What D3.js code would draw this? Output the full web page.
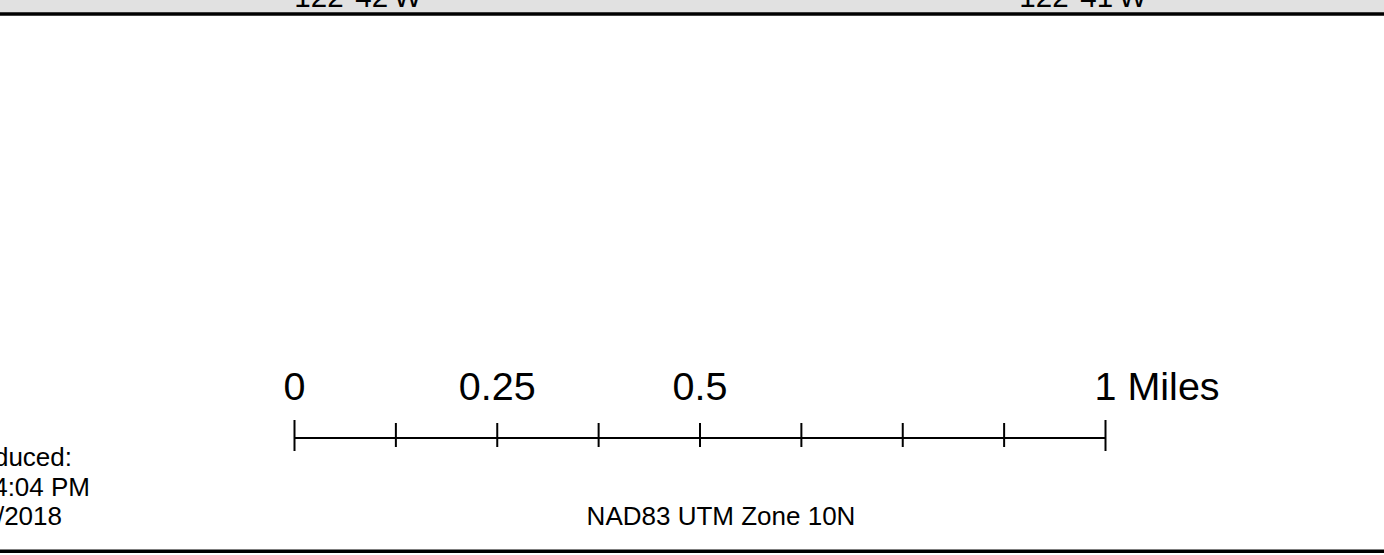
<!DOCTYPE html>
<html>
<head>
<meta charset="utf-8">
<script src="https://cdn.jsdelivr.net/npm/d3@7"></script>
<style>
  html, body { margin: 0; padding: 0; background: #fff; overflow: hidden; }
  text { font-family: "Liberation Sans", Arial, sans-serif; fill: #000; }
</style>
</head>
<body>
<div id="map"></div>
<script>
// Scale bar divisions (miles) and which ones get a label
const barTicks = [0, 0.125, 0.25, 0.375, 0.5, 0.625, 0.75, 0.875, 1];
const barLabels = [0, 0.25, 0.5, 1];
const barUnit = "Miles";

// Meridian labels along the top edge (decimal degrees)
const meridians = [-122.7, -122.68333];
const meridianText = ["122°42'W", "122°41'W"];

// Footer text
const producedLines = ["Map Produced:", "4:04 PM", "9/12/2018"];
const projectionText = "NAD83 UTM Zone 10N";

const width = 1384;
const height = 555;

const svg = d3
  .select("#map")
  .append("svg")
  .attr("width", width)
  .attr("height", height);

// Grey neatline band at the top
svg
  .append("rect")
  .attr("x", 0)
  .attr("y", 0)
  .attr("width", width)
  .attr("height", 13)
  .attr("fill", "#e1e1e1");

svg
  .append("line")
  .attr("x1", 0)
  .attr("x2", width)
  .attr("y1", 14)
  .attr("y2", 14)
  .attr("stroke", "#000")
  .attr("stroke-width", 3.4);

// Bottom frame line
svg
  .append("line")
  .attr("x1", 0)
  .attr("x2", width)
  .attr("y1", 551.3)
  .attr("y2", 551.3)
  .attr("stroke", "#000")
  .attr("stroke-width", 3.6);

// Meridian labels (mostly cut off by the top of the frame)
const lonScale = d3.scaleLinear().domain(meridians).range([358, 1083]);

svg
  .append("g")
  .selectAll("text")
  .data(meridians)
  .join("text")
  .attr("x", (d) => lonScale(d))
  .attr("y", 7)
  .attr("text-anchor", "middle")
  .style("font-size", "29.5px")
  .text((d, i) => meridianText[i]);

// Scale bar
const miles = d3.scaleLinear().domain([0, 1]).range([294.5, 1105.5]);
const barY = 438;

const bar = svg.append("g").attr("class", "scale-bar");

bar
  .append("line")
  .attr("x1", miles(0))
  .attr("x2", miles(1))
  .attr("y1", barY)
  .attr("y2", barY)
  .attr("stroke", "#000")
  .attr("stroke-width", 2);

bar
  .selectAll(".tick")
  .data(barTicks)
  .join("line")
  .attr("class", "tick")
  .attr("x1", (d) => miles(d))
  .attr("x2", (d) => miles(d))
  .attr("y1", (d) => (d === 0 || d === 1 ? barY - 18 : barY - 15))
  .attr("y2", (d) => (d === 0 || d === 1 ? barY + 13 : barY + 9))
  .attr("stroke", "#000")
  .attr("stroke-width", 2);

bar
  .selectAll(".label")
  .data(barLabels)
  .join("text")
  .attr("class", "label")
  .attr("x", (d) => miles(d))
  .attr("y", 400)
  .attr("text-anchor", "middle")
  .style("font-size", "39.5px")
  .each(function (d) {
    const t = d3.select(this);
    if (d === 1) {
      // keep the number centred on its tick, unit follows it
      t.attr("text-anchor", "start")
        .attr("dx", -11)
        .text(`${d} ${barUnit}`);
    } else {
      t.text(d);
    }
  });

// Projection note
svg
  .append("text")
  .attr("x", 721)
  .attr("y", 525)
  .attr("text-anchor", "middle")
  .style("font-size", "26px")
  .text(projectionText);

// Production stamp, clipped by the left edge
const producedEnds = [72, 90, 62];
svg
  .append("g")
  .selectAll("text")
  .data(producedLines)
  .join("text")
  .attr("x", (d, i) => producedEnds[i])
  .attr("y", (d, i) => 466 + i * 29.5)
  .attr("text-anchor", "end")
  .style("font-size", "26px")
  .text((d) => d);
</script>
</body>
</html>
